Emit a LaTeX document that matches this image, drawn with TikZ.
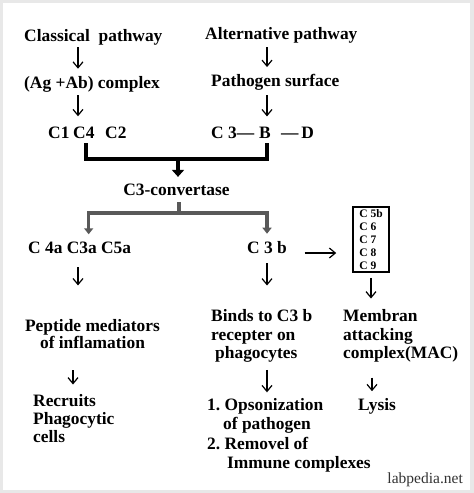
\documentclass[tikz,border=0pt]{standalone}
\usepackage{fontspec}
\setmainfont{Liberation Serif}
\usetikzlibrary{arrows.meta}

\tikzset{
  every node/.style={font=\fontsize{17.4}{19}\selectfont\bfseries, inner sep=0pt},
  down/.style={line width=1.2pt, -{Straight Barb[length=6pt,width=10pt]}},
  joinline/.style={line width=3.5pt},
  splitline/.style={line width=3.5pt, draw=black!65},
}

\begin{document}
\begin{tikzpicture}[x=1pt,y=-1pt]

% Frame
\fill [black!9] (0,0) rectangle (474,493);
\fill [white] (3,3) rectangle (470,490);
\useasboundingbox (0,0) rectangle (474,493);

% Classical pathway
\node [anchor=base west] (cls) at (24,41.5) {Classical\ \ pathway};
\node [anchor=base west] (agab) at (24,88) {(Ag +Ab) complex};
\node [anchor=base west] (c1) at (48,138) {C1};
\node [anchor=base west] (c4) at (73,138) {C4};
\node [anchor=base west] (c2) at (105,138) {C2};

% Alternative pathway
\node [anchor=base west] (alt) at (205,39.5) {Alternative pathway};
\node [anchor=base west] (psurf) at (211,86) {Pathogen surface};
\node [anchor=base west] (c3) at (211,138) {C 3—};
\node [anchor=base west] (fb) at (259,138) {B};
\node [anchor=base west] (fd) at (281,138) {—\,D};

\draw [down, shorten <=2pt, shorten >=7pt] ([xshift=54pt]cls.south west) -- ([xshift=54pt]cls.south west |- agab.north);
\draw [down, shorten <=3pt, shorten >=10pt] ([xshift=54pt]agab.south west) -- ([xshift=54pt]agab.south west |- c4.north);
\draw [down, shorten <=4pt, shorten >=6.5pt] ([xshift=62pt]alt.south west) -- ([xshift=62pt]alt.south west |- psurf.north);
\draw [down, shorten <=5pt, shorten >=10pt] ([xshift=56pt]psurf.south west) -- ([xshift=56pt]psurf.south west |- fb.north);

% Both pathways join
\node [anchor=base] (conv) at (176.5,195) {C3-convertase};
\coordinate (jn) at (178,159);
\draw [joinline] ([xshift=2pt,yshift=-5pt]c4.south) |- (jn) -| ([xshift=2pt,yshift=-5pt]fb.south);
\draw [joinline, shorten >=6.4pt, -{Triangle[length=7pt,width=12pt]}] (jn) -- (jn |- conv.north);

% Split of C3
\node [anchor=base west] (c4a) at (28,253) {C 4a C3a C5a};
\node [anchor=base west] (c3b) at (247,253) {C 3 b};
\coordinate (sp) at (179,213);
\draw [splitline] (sp |- conv.south) ++(0,7) -- (sp);
\draw [splitline, shorten >=7pt, -{Triangle[length=6pt,width=9pt]}] (sp) -| ([xshift=9pt]c4a.north);
\draw [splitline, shorten >=7pt, -{Triangle[length=6pt,width=9pt]}] (sp) -| (c3b.north);

% Terminal complement
\node [draw,
    line width=1.5pt,
    minimum width=36pt,
    minimum height=65pt,
    align=left,
    font=\fontsize{11.5}{13}\selectfont\bfseries] (mac) at (371,239.5) {C 5b\\C 6\\C 7\\C 8\\C 9};
\draw [down, shorten <=17.5pt, shorten >=16pt] (c3b.base east) -- (c3b.base east -| mac.west);

% Effects
\node [anchor=north, align=center, font=\fontsize{17.4}{17}\selectfont\bfseries] (pep) at (92.5,319.4) {Peptide mediators\\of inflamation};
\node [anchor=north west, align=left, font=\fontsize{17.4}{18}\selectfont\bfseries] (rec) at (33,394.5) {Recruits\\Phagocytic\\cells};
\node [anchor=north west, align=left, font=\fontsize{17.4}{18.5}\selectfont\bfseries] (binds) at (211,309.5) {Binds to C3 b\\recepter on\\\hspace*{4pt}phagocytes};
\node [anchor=north west, align=left, font=\fontsize{17.4}{19.3}\selectfont\bfseries] (ops) at (207,398.3) {1.\ Opsonization\\\hspace*{16pt}of pathogen\\2.\ Removel of\\\hspace*{20pt}Immune complexes};
\node [anchor=north west, align=left, font=\fontsize{17.4}{18.5}\selectfont\bfseries] (mem) at (343,309.5) {Membran\\attacking\\complex(MAC)};
\node [anchor=base west] (lys) at (358,410) {Lysis};

\draw [down, shorten <=14pt, shorten >=34pt] ([xshift=50pt]c4a.south west) -- ([xshift=50pt]c4a.south west |- pep.north);
\draw [down, shorten <=10pt, shorten >=24pt] (c3b.south) -- (c3b.south |- binds.north);
\draw [down, shorten <=5pt, shorten >=11pt] (mac.south) -- (mac.south |- mem.north);
\draw [down, shorten <=21pt, shorten >=10pt] ([xshift=40pt]rec.north west |- pep.south) -- ([xshift=40pt]rec.north west);
\draw [down, shorten <=7pt, shorten >=6pt] ([xshift=56pt]binds.south west) -- ([xshift=56pt]binds.south west |- ops.north);
\draw [down, shorten <=15pt, shorten >=6.5pt] ([xshift=29pt]mem.south west) -- ([xshift=29pt]mem.south west |- lys.north);

% Source
\node [anchor=base east, font=\fontsize{15.5}{18}\selectfont, text=black!80] (site) at (463,483) {labpedia.net};

\end{tikzpicture}
\end{document}
